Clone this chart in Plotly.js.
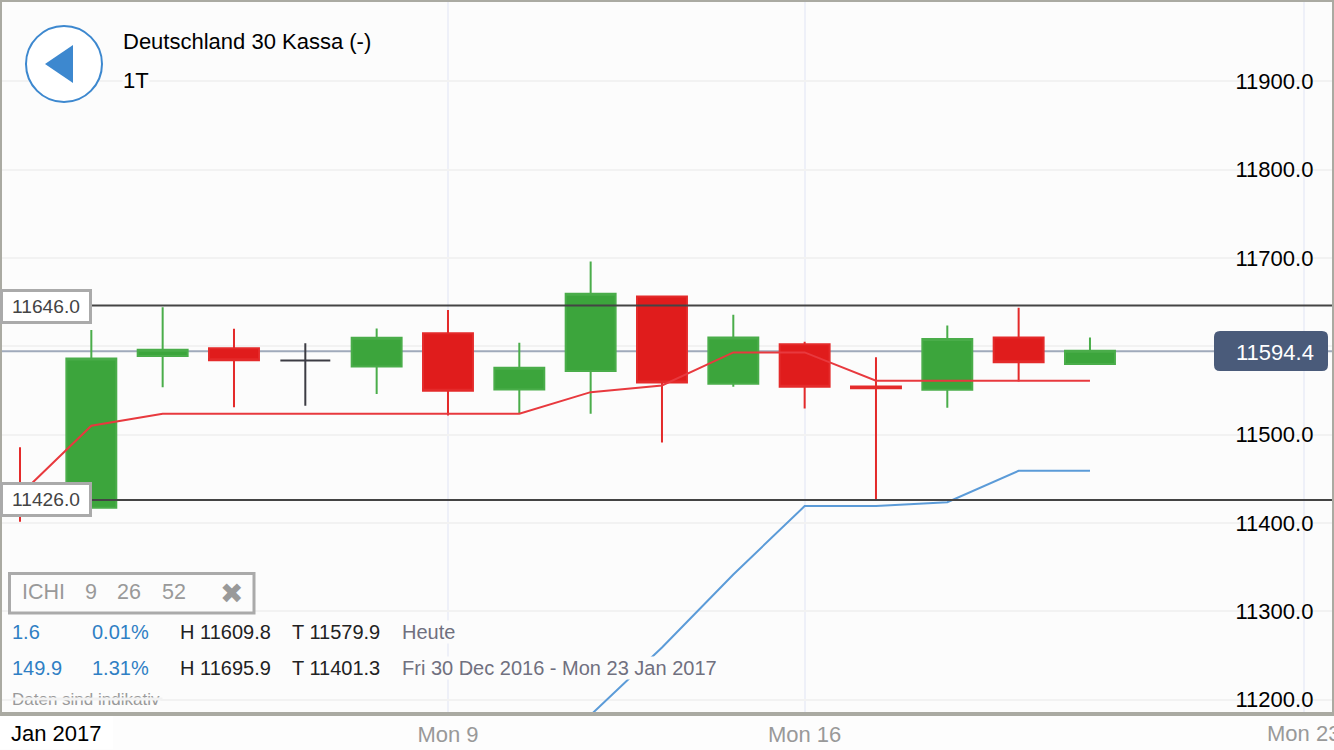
<!DOCTYPE html>
<html><head><meta charset="utf-8">
<script src="https://cdn.plot.ly/plotly-3.0.1.min.js"></script>
<style>html,body{margin:0;padding:0;background:#fff;overflow:hidden}#c{width:1334px;height:750px}</style>
</head><body><div id="c"></div>
<script>
const dates=["Fri 30 Dec","Mon 2 Jan","Tue 3 Jan","Wed 4 Jan","Thu 5 Jan","Fri 6 Jan","Mon 9 Jan","Tue 10 Jan","Wed 11 Jan","Thu 12 Jan","Fri 13 Jan","Mon 16 Jan","Tue 17 Jan","Wed 18 Jan","Thu 19 Jan","Fri 20 Jan"];
const open_ =[11443,11417,11589,11597.7,11583.8,11577,11614.7,11551,11572,11656.2,11557.5,11602.2,11554.5,11550.6,11610,11580];
const high  =[11485.6,11618.5,11644,11619.7,11603.4,11620,11641,11603.8,11695.9,11656.2,11635.5,11605,11587.5,11623.4,11643.5,11609.8];
const low   =[11401.3,11417,11553.6,11531,11532.5,11546,11521.6,11523.5,11523.5,11491,11554,11529.5,11426,11530.3,11560,11579.9];
const close_=[11424,11586,11596,11584,11583.8,11609.5,11549.5,11575.5,11659.3,11559,11610,11554,11552.5,11608.3,11581.9,11595];
const tenkan=[11431.8,11510,11523.5,11523.5,11523.5,11523.5,11523.5,11523.5,11548,11555.5,11593,11593,11561,11561,11561,11561];
const kijun =[null,null,null,null,null,null,null,null,11182.5,11258.9,11341.6,11419,11419,11423.4,11459,11459];
const dojiIndex=[4];
const tickPos=[6,11,18];
const tickText=["Mon 9","Mon 16","Mon 23"];
const priceTicks=[11200,11300,11400,11500,11600,11700,11800,11900];
const priceLabels=["11200.0","11300.0","11400.0","11500.0","","11700.0","11800.0","11900.0"];
const levelHigh=11646, levelLow=11426, lastPrice=11594.4;
const statsRow1=["1.6","0.01%","H 11609.8","T 11579.9","Heute"];
const statsRow2=["149.9","1.31%","H 11695.9","T 11401.3","Fri 30 Dec 2016 - Mon 23 Jan 2017"];
const ichi=["ICHI","9","26","52"];

const idx=dates.map((d,i)=>i);
const mainI=idx.filter(i=>!dojiIndex.includes(i));
const pick=(a,ii)=>ii.map(i=>a[i]);
const FONT='"Liberation Sans", Arial, sans-serif';
const px=x=>(x-2)/1330, py=y=>(712-y)/710;
const GREEN='#3ca53c', RED='#e01c1c', BG='#fcfcfc';

const candle={type:'candlestick',x:pick(idx,mainI),open:pick(open_,mainI),high:pick(high,mainI),low:pick(low,mainI),close:pick(close_,mainI),
  whiskerwidth:0,hoverinfo:'skip',
  increasing:{line:{color:'#4aad4a',width:2},fillcolor:GREEN},
  decreasing:{line:{color:'#e42a2a',width:2},fillcolor:RED}};
const doji={type:'candlestick',x:dojiIndex,open:pick(open_,dojiIndex),high:pick(high,dojiIndex),low:pick(low,dojiIndex),close:pick(close_,dojiIndex),
  whiskerwidth:0,hoverinfo:'skip',
  increasing:{line:{color:'#3c3c44',width:2},fillcolor:'#3c3c44'},
  decreasing:{line:{color:'#3c3c44',width:2},fillcolor:'#3c3c44'}};
const tenkanTrace={type:'scatter',mode:'lines',x:idx,y:tenkan,line:{color:'#e8393e',width:2},hoverinfo:'skip'};
const kijunTrace={type:'scatter',mode:'lines',x:idx,y:kijun,line:{color:'#5b9bd8',width:2},hoverinfo:'skip'};

function note(text,x,y,o={}){
  return Object.assign({text,xref:'paper',yref:'paper',x:px(x),y:py(y),xanchor:'left',yanchor:'middle',showarrow:false,
    font:{family:FONT,size:20,color:'#000'},bgcolor:BG,borderpad:0},o);
}
const gf=(c,s=20)=>({family:FONT,size:s,color:c});
const colX=[11,91,179,291,401], colC=['#2f7fc4','#2f7fc4','#222','#222','#70707f'];
const annotations=[
  note('Deutschland 30 Kassa (-)',122,41,{font:gf('#000',22),bgcolor:'rgba(0,0,0,0)'}),
  note('1T',122,81,{font:gf('#000',22)}),
  note(levelHigh.toFixed(1),0,306,{width:86,height:29,align:'center',font:gf('#444',19.2),bgcolor:'#fff',bordercolor:'#aaa',borderwidth:3}),
  note(levelLow.toFixed(1),0,500,{width:86,height:29,align:'center',font:gf('#444',19.2),bgcolor:'#fff',bordercolor:'#aaa',borderwidth:3}),
  note(lastPrice.toFixed(1),1235,352,{font:gf('#fff',22),bgcolor:'rgba(0,0,0,0)'}),
  note(ichi[0],21,592,{font:gf('#999',21.5)}),
  note(ichi[1],84,592,{font:gf('#999',21.5)}),
  note(ichi[2],116,592,{font:gf('#999',21.5)}),
  note(ichi[3],161,592,{font:gf('#999',21.5)}),
  note('\u2716',219,593,{font:{family:'"DejaVu Sans"',size:28,color:'#999'},bgcolor:'rgba(0,0,0,0)'}),
  note('Daten sind indikativ',11,699,{font:gf('#999',17)}),
  note(' ',11,699,{width:150,height:2,bgcolor:'#f2f2f2',font:gf('#000',1)}),
  note('Jan 2017',10,733,{font:gf('#000',22),bgcolor:'rgba(0,0,0,0)'}),
  note(tickText[2],0,733.5,{xref:'x',x:tickPos[2],xanchor:'center',font:gf('#999',22),bgcolor:'rgba(0,0,0,0)'})
];
statsRow1.forEach((t,i)=>annotations.push(note(t,colX[i],632,{font:gf(colC[i],20)})));
statsRow2.forEach((t,i)=>annotations.push(note(t,colX[i],668,{font:gf(colC[i],20)})));

const r=6,bx0=1214,bx1=1328,by0=331,by1=371;
const P=(x,y)=>px(x)+','+py(y);
const shapes=[
  {type:'line',xref:'paper',yref:'y',x0:0,x1:1,y0:lastPrice,y1:lastPrice,layer:'below',line:{color:'#a0aabb',width:2}},
  {type:'line',xref:'paper',yref:'y',x0:0,x1:1,y0:levelHigh,y1:levelHigh,layer:'above',line:{color:'#444',width:2}},
  {type:'line',xref:'paper',yref:'y',x0:0,x1:1,y0:levelLow,y1:levelLow,layer:'above',line:{color:'#444',width:2}},
  {type:'path',xref:'paper',yref:'paper',layer:'above',fillcolor:'#4a5b7a',line:{width:0},
   path:`M ${P(bx0+r,by0)} L ${P(bx1-r,by0)} Q ${P(bx1,by0)} ${P(bx1,by0+r)} L ${P(bx1,by1-r)} Q ${P(bx1,by1)} ${P(bx1-r,by1)} L ${P(bx0+r,by1)} Q ${P(bx0,by1)} ${P(bx0,by1-r)} L ${P(bx0,by0+r)} Q ${P(bx0,by0)} ${P(bx0+r,by0)} Z`},
  {type:'circle',xref:'paper',yref:'paper',layer:'above',x0:px(26),x1:px(102),y0:py(102),y1:py(26),fillcolor:'#fff',line:{color:'#3d88cf',width:2}},
  {type:'path',xref:'paper',yref:'paper',layer:'above',fillcolor:'#3d88cf',line:{width:0},path:`M ${P(45,64)} L ${P(73,45)} L ${P(73,83)} Z`},
  {type:'rect',xref:'paper',yref:'paper',layer:'above',x0:px(9.5),x1:px(254),y0:py(613),y1:py(573.5),fillcolor:BG,line:{color:'#aaa',width:3}},
  {type:'rect',xref:'paper',yref:'paper',layer:'below',x0:px(0),x1:px(113),y0:py(749),y1:py(716),fillcolor:'#fff',line:{width:0}}
];

const layout={width:1334,height:750,margin:{l:2,r:2,t:2,b:38,pad:0},showlegend:false,
  paper_bgcolor:'#fdfdfd',plot_bgcolor:BG,font:{family:FONT},boxgap:0.3,boxgroupgap:0,boxmode:'overlay',
  xaxis:{type:'linear',range:[-0.2523,18.393],tickmode:'array',tickvals:tickPos,ticktext:[tickText[0],tickText[1],''],ticklabeloverflow:'allow',
    tickfont:gf('#999',22),ticks:'',
    showgrid:true,gridcolor:'#eef0f8',gridwidth:2,zeroline:false,showline:true,mirror:true,linecolor:'#aaaaa2',linewidth:4,
    rangeslider:{visible:false},fixedrange:true},
  yaxis:{type:'linear',range:[11185.9,11989.7],side:'right',tickmode:'array',tickvals:priceTicks,ticktext:priceLabels,
    ticklabelposition:'inside',ticklabeloverflow:'allow',ticks:'',ticklabelstandoff:20,
    tickfont:gf('#000',22),showgrid:true,gridcolor:'#f2f2f2',gridwidth:2,zeroline:false,showline:true,mirror:true,linecolor:'#aaaaa2',linewidth:2,fixedrange:true},
  shapes,annotations};
Plotly.newPlot('c',[candle,doji,tenkanTrace,kijunTrace],layout,{displayModeBar:false,staticPlot:true});
</script></body></html>
